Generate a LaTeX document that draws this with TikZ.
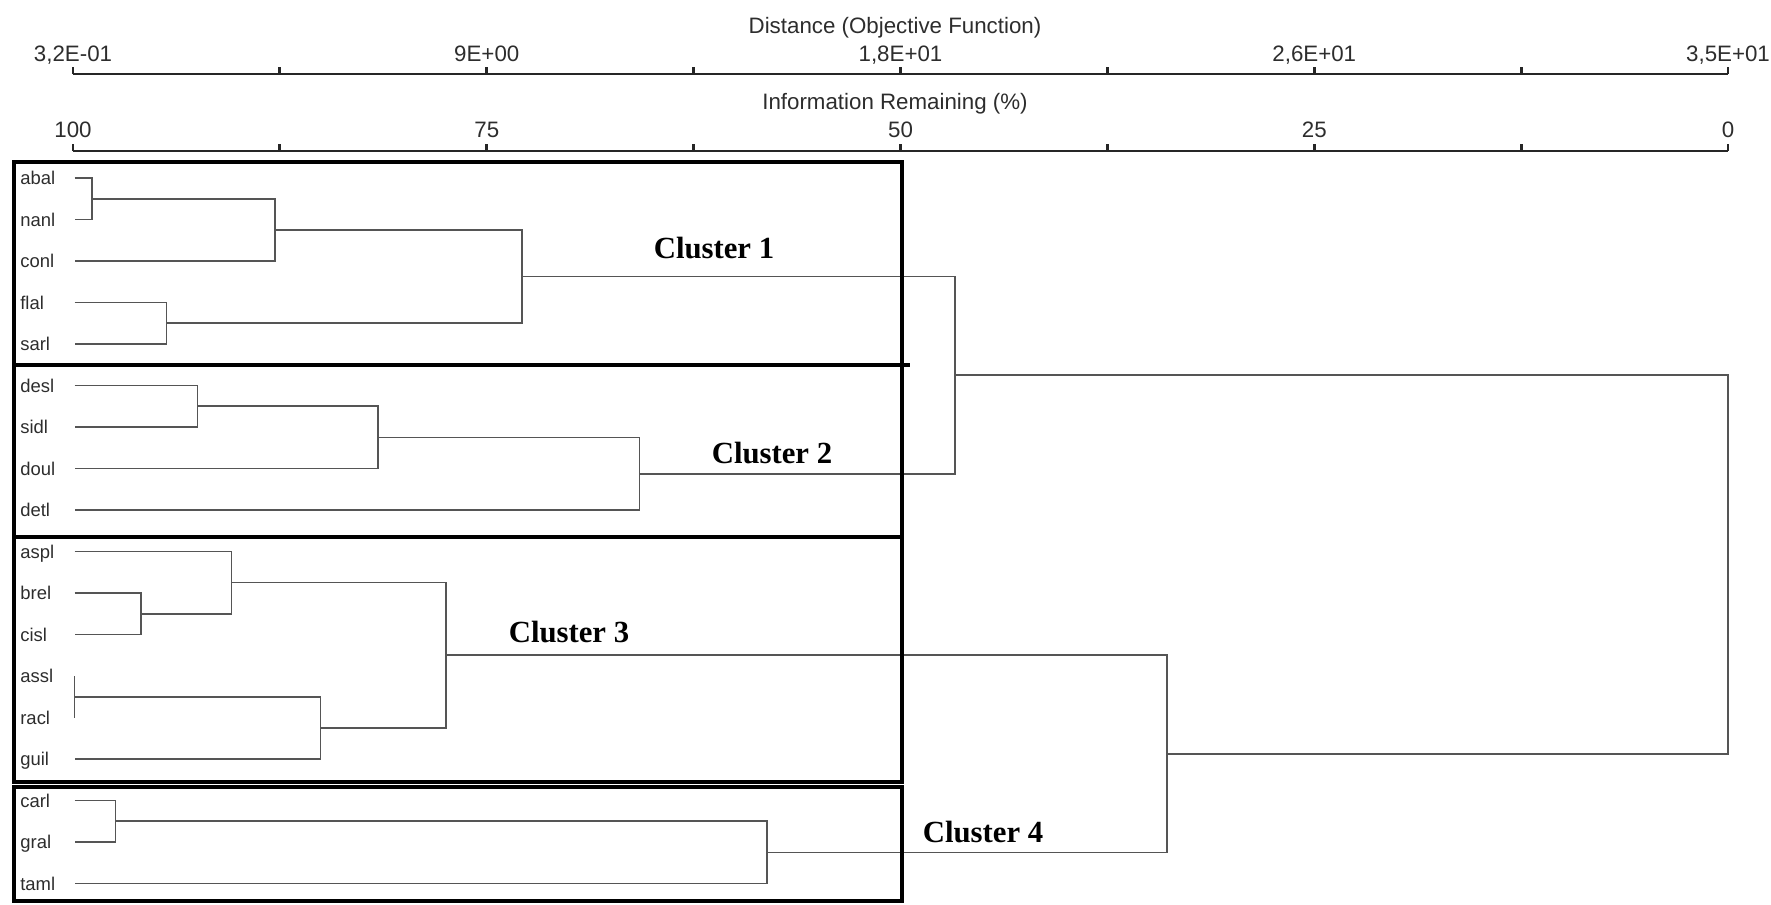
\documentclass[tikz,border=0pt]{standalone}
\usepackage{fontspec}
\setmainfont{Liberation Sans}
\newfontfamily\clusterfont{Liberation Serif}
\usepackage{xcolor}
\usepackage{tikz}

\definecolor{linkgray}{RGB}{85,85,85}
\definecolor{textgray}{RGB}{45,45,45}

\begin{document}
\begin{tikzpicture}[x=0.02cm,y=-0.02cm,
    axislabel/.style={font=\fontsize{12.7}{15}\selectfont, text=textgray, inner sep=0pt, anchor=base},
    leaflabel/.style={font=\fontsize{10.5}{12}\selectfont, text=textgray, inner sep=0pt, anchor=base west},
    clusterlabel/.style={font=\clusterfont\bfseries\fontsize{17.5}{20}\selectfont, inner sep=0pt, anchor=base},
    link/.style={draw=linkgray, line width=1pt},
    axisline/.style={draw=black!85, line width=1.6pt},
    clusterbox/.style={draw=black, line width=2.6pt}]
    \useasboundingbox (0,0) rectangle (1771,904);
    \draw[axisline](73,74)--(1728,74);
    \foreach \k in {0,...,8} {\draw[axisline]({73+206.875*\k},74)--({73+206.875*\k},67);}
    %绘制(draw)上方坐标轴(Distance),刻度(tick)向上
    \foreach \lab [count=\k from 0] in {{3,2E-01},{9E+00},{1,8E+01},{2,6E+01},{3,5E+01}} {\node[axislabel] (dist\k) at ({73+413.75*\k},61.5) {\lab};}
    \node[axislabel] (disttitle) at (895,33) {Distance (Objective Function)};
    %文字(\lab)显示在每隔一个刻度的上方(above)
    \draw[axisline](73,151)--(1728,151);
    \foreach \k in {0,...,8} {\draw[axisline]({73+206.875*\k},151)--({73+206.875*\k},144);}
    %绘制(draw)下方坐标轴(Information Remaining)
    \foreach \lab [count=\k from 0] in {100,75,50,25,0} {\node[axislabel] (info\k) at ({73+413.75*\k},137.5) {\lab};}
    \node[axislabel] (infotitle) at (895,109.5) {Information Remaining (\%)};
    \foreach \leaf [count=\i from 0] in {abal,nanl,conl,flal,sarl,desl,sidl,doul,detl,aspl,brel,cisl,assl,racl,guil,carl,gral,taml} {
        \node[leaflabel] (\leaf) at (20,{184.5+41.5*\i}) {\leaf};
        \coordinate (\leaf-s) at (74.6,{178+41.5*\i});}
    %叶子(leaf)的名字,以及每条横线的起点(\leaf-s)
    \coordinate (jAN) at (92,198.75);
    \coordinate (jANC) at (275,229.9);
    \coordinate (jFS) at (166.5,323.25);
    \coordinate (jC1) at (522,276.6);
    \coordinate (jDS) at (197.5,406.25);
    \coordinate (jDSD) at (378,437.4);
    \coordinate (jC2) at (639.5,473.7);
    \coordinate (jC12) at (955,375.1);
    \coordinate (jBC) at (141,613.75);
    \coordinate (jABC) at (231.5,582.6);
    \coordinate (jAR) at (74.6,696.75);
    \coordinate (jARG) at (320.5,727.9);
    \coordinate (jC3) at (446,655.25);
    \coordinate (jCG) at (115.5,821.25);
    \coordinate (jC4) at (767,852.4);
    \coordinate (jC34) at (1167,753.8);
    \coordinate (jRoot) at (1728,564.5);
    %合并点(join),横坐标为距离,纵坐标为两个子节点的中点
    \draw[link](abal-s) -| (jAN) |- (nanl-s);
    \draw[link](jAN) -| (jANC) |- (conl-s);
    \draw[link](flal-s) -| (jFS) |- (sarl-s);
    \draw[link](jANC) -| (jC1) |- (jFS);
    \draw[link](desl-s) -| (jDS) |- (sidl-s);
    \draw[link](jDS) -| (jDSD) |- (doul-s);
    \draw[link](jDSD) -| (jC2) |- (detl-s);
    \draw[link](jC1) -| (jC12) |- (jC2);
    \draw[link](brel-s) -| (jBC) |- (cisl-s);
    \draw[link](aspl-s) -| (jABC) |- (jBC);
    \draw[link](assl-s) -| (jAR) |- (racl-s);
    \draw[link](jAR) -| (jARG) |- (guil-s);
    \draw[link](jABC) -| (jC3) |- (jARG);
    \draw[link](carl-s) -| (jCG) |- (gral-s);
    \draw[link](jCG) -| (jC4) |- (taml-s);
    \draw[link](jC3) -| (jC34) |- (jC4);
    \draw[link](jC12) -| (jRoot) |- (jC34);
    %绘制(draw)树状图(dendrogram),先横(-|)后竖(|-)
    \draw[clusterbox](14,162) rectangle (902,365);
    \draw[clusterbox](902,365)--(910,365);
    \draw[clusterbox](14,365) rectangle (902,537);
    \draw[clusterbox](14,537) rectangle (902,782);
    \draw[clusterbox](14,787) rectangle (902,901);
    %四个粗框(clusterbox)
    \node[clusterlabel] (c1) at (714,258) {Cluster 1};
    \node[clusterlabel] (c2) at (772,463) {Cluster 2};
    \node[clusterlabel] (c3) at (569,642) {Cluster 3};
    \node[clusterlabel] (c4) at (983,842) {Cluster 4};
\end{tikzpicture}
\end{document}
